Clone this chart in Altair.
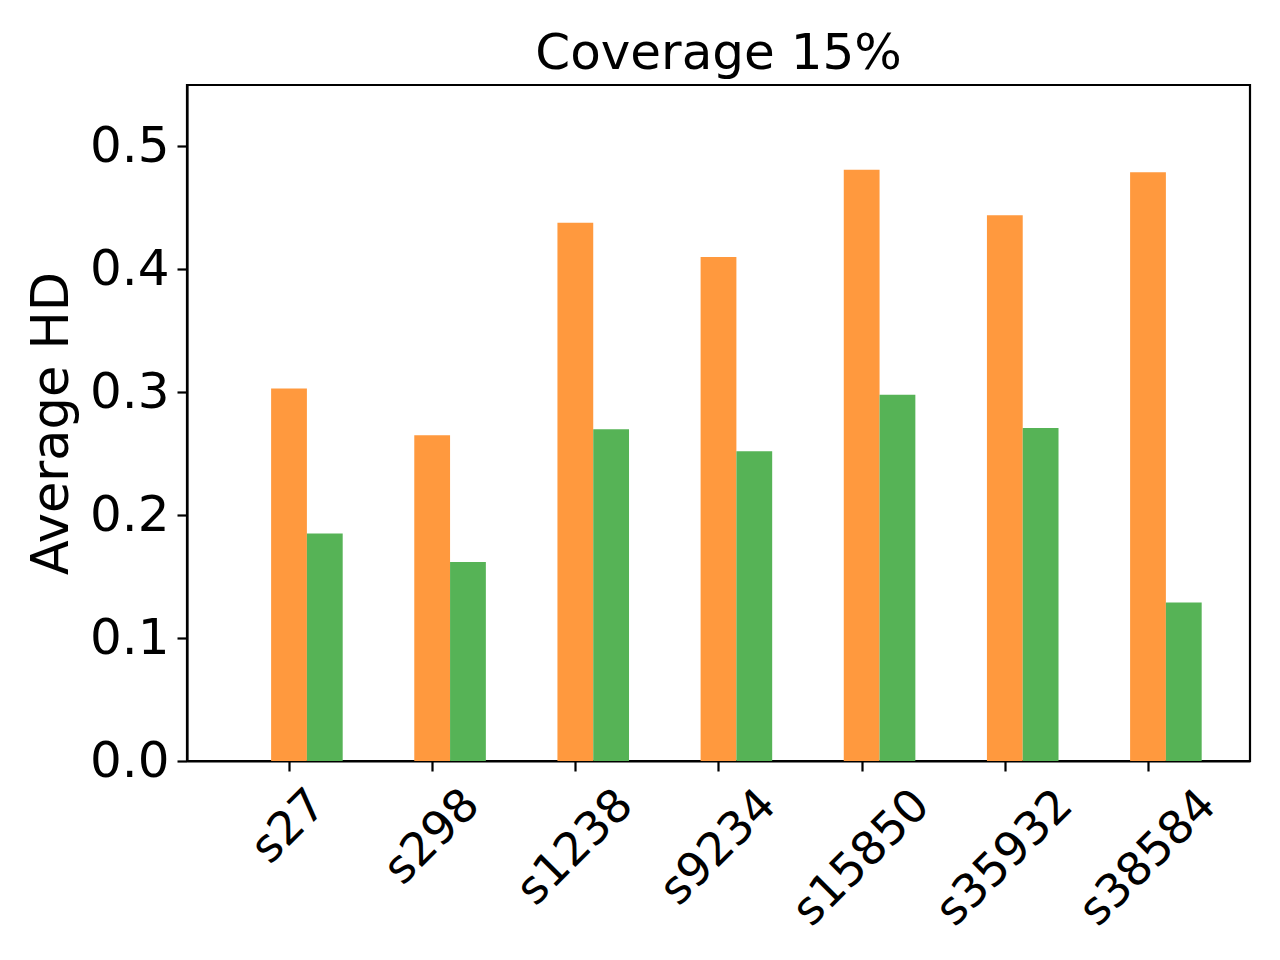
import altair as alt
import pandas as pd

categories = ["s27", "s298", "s1238", "s9234", "s15850", "s35932", "s38584"]
series_names = ["Method A", "Method B"]
values_a = [0.303, 0.265, 0.438, 0.410, 0.481, 0.444, 0.479]
values_b = [0.185, 0.162, 0.270, 0.252, 0.298, 0.271, 0.129]
y_ticks = [0.0, 0.1, 0.2, 0.3, 0.4, 0.5]
colors = ["#FF993E", "#56B356"]

rows = []
for i, c in enumerate(categories):
    rows.append({"cat": c, "idx": i, "series": series_names[0], "value": values_a[i]})
    rows.append({"cat": c, "idx": i, "series": series_names[1], "value": values_b[i]})
df = pd.DataFrame(rows)
lab = pd.DataFrame({"cat": categories, "idx": list(range(len(categories)))})

FONT = "DejaVu Sans"
FS = 50
W, H = 1063, 676
YMAX = 0.55
xscale = alt.Scale(domain=[-0.7125, 6.7125], nice=False, zero=False, padding=0)
yscale = alt.Scale(domain=[0, YMAX], nice=False, padding=0)

bars = alt.Chart(df).transform_calculate(
    off=f"datum.series == '{series_names[0]}' ? 0 : 0.25"
).transform_calculate(
    xs="datum.idx + datum.off - 0.125", xe="datum.idx + datum.off + 0.125"
).mark_bar().encode(
    x=alt.X("xs:Q", scale=xscale,
            axis=alt.Axis(values=list(range(len(categories))), labels=False, title=None,
                          grid=False, tickSize=10, tickWidth=2.2, tickColor="black",
                          domainColor="black", domainWidth=2.2)),
    x2="xe:Q",
    y=alt.Y("value:Q", scale=yscale,
            axis=alt.Axis(values=y_ticks, format=".1f", title="Average HD", grid=False,
                          labelFont=FONT, labelFontSize=FS, labelColor="black",
                          labelPadding=8, tickSize=10, tickWidth=2.2, tickColor="black",
                          domainColor="black", domainWidth=2.2,
                          titleFont=FONT, titleFontSize=51, titleFontWeight="normal",
                          titleColor="black", titlePadding=11)),
    y2=alt.datum(0),
    color=alt.Color("series:N", scale=alt.Scale(domain=series_names, range=colors), legend=None),
)

labels = alt.Chart(lab).transform_calculate(
    ly=f"-(34 + 10.5*length(datum.cat))/({H}/{YMAX})"
).mark_text(angle=315, align="center", baseline="middle", font=FONT, fontSize=46,
            color="black").encode(
    x=alt.X("idx:Q", scale=xscale),
    y=alt.Y("ly:Q", scale=yscale),
    text="cat:N",
)

chart = alt.layer(bars, labels).properties(
    width=W, height=H,
    background="white",
    title=alt.Title("Coverage 15%", font=FONT, fontSize=50, fontWeight="normal",
                    color="black", offset=6, anchor="middle"),
    autosize=alt.AutoSizeParams(type="none"),
    padding={"left": 179, "top": 77, "right": 22, "bottom": 191},
).configure_view(stroke="black", strokeWidth=2.2)

chart.save("out.html", embed_options={"renderer": "svg", "actions": False})
